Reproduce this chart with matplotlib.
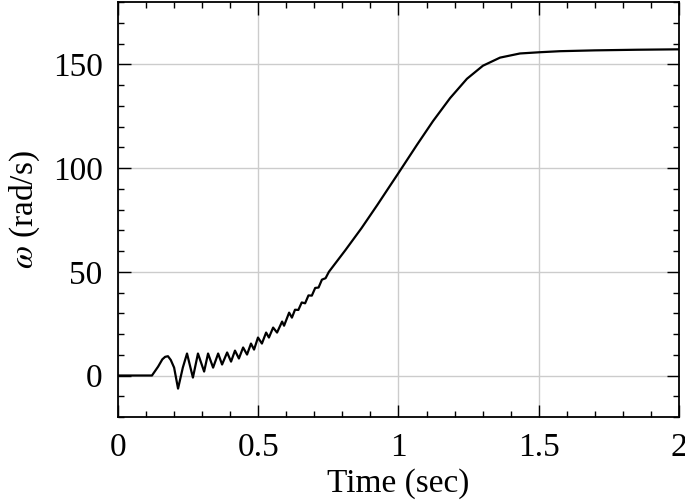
import numpy as np
import matplotlib
matplotlib.use("Agg")
import matplotlib.pyplot as plt
from matplotlib.ticker import MultipleLocator

# rotor speed
time_s = [0.000, 0.121, 0.143, 0.158, 0.168, 0.178, 0.188, 0.200, 0.214, 0.231,
          0.246, 0.257, 0.267, 0.285, 0.307, 0.321, 0.339, 0.357, 0.371, 0.389,
          0.403, 0.417, 0.431, 0.446, 0.460, 0.474, 0.485, 0.499, 0.513, 0.528,
          0.538, 0.553, 0.567, 0.585, 0.592, 0.610, 0.620, 0.631, 0.643, 0.655,
          0.667, 0.679, 0.691, 0.703, 0.715, 0.727, 0.740, 0.752, 0.810, 0.868,
          0.925, 0.970, 1.000, 1.066, 1.123, 1.184, 1.244, 1.301, 1.362, 1.433,
          1.504, 1.576, 1.700, 1.850, 2.000]
omega = [0.0, 0.0, 4.3, 7.8, 9.0, 9.3, 7.5, 3.8, -6.3, 3.8,
         10.6, 4.5, -1.0, 10.6, 1.9, 10.6, 3.8, 10.6, 5.3, 11.1,
         6.7, 12.0, 8.2, 13.5, 10.1, 15.4, 12.5, 18.3, 15.4, 20.7,
         18.3, 23.1, 20.7, 26.0, 24.0, 30.3, 27.9, 31.7, 31.6, 35.2,
         34.8, 38.6, 38.5, 42.2, 42.4, 46.2, 46.9, 50.0, 60.3, 71.0,
         82.3, 91.5, 97.6, 111.2, 122.6, 133.7, 143.0, 149.3, 153.2, 155.2,
         155.8, 156.3, 156.7, 157.0, 157.2]

plt.rcParams["font.family"] = ["Liberation Serif", "DejaVu Serif"]
plt.rcParams["mathtext.fontset"] = "stix"

fig = plt.figure(figsize=(6.85, 5.04), dpi=100)
ax = fig.add_axes([0.1723, 0.1726, 0.8189, 0.8234])

ax.plot(time_s, omega, color="black", lw=1.6, solid_joinstyle="round")

ax.set_xlim(0, 2)
ax.set_ylim(-20, 180)
ax.xaxis.set_major_locator(MultipleLocator(0.5))
ax.xaxis.set_minor_locator(MultipleLocator(0.1))
ax.yaxis.set_major_locator(MultipleLocator(50))
ax.yaxis.set_minor_locator(MultipleLocator(10))
ax.set_xticks([0, 0.5, 1, 1.5, 2])
ax.set_xticklabels(["0", "0.5", "1", "1.5", "2"])

ax.grid(True, which="major", color="#cccccc", lw=1)
ax.set_axisbelow(True)
ax.tick_params(which="both", direction="in", top=True, right=True, labelsize=24, width=1)
ax.tick_params(which="major", length=9)
ax.tick_params(which="minor", length=4.5)
ax.tick_params(axis="x", which="major", pad=11)
ax.tick_params(axis="y", which="major", pad=11)
for sp in ax.spines.values():
    sp.set_linewidth(1.3)

ax.set_xlabel("Time (sec)", fontsize=24, labelpad=4)
ax.set_ylabel("$\\omega$ (rad/s)", fontsize=24, labelpad=8)

fig.savefig("out.png", dpi=100)
